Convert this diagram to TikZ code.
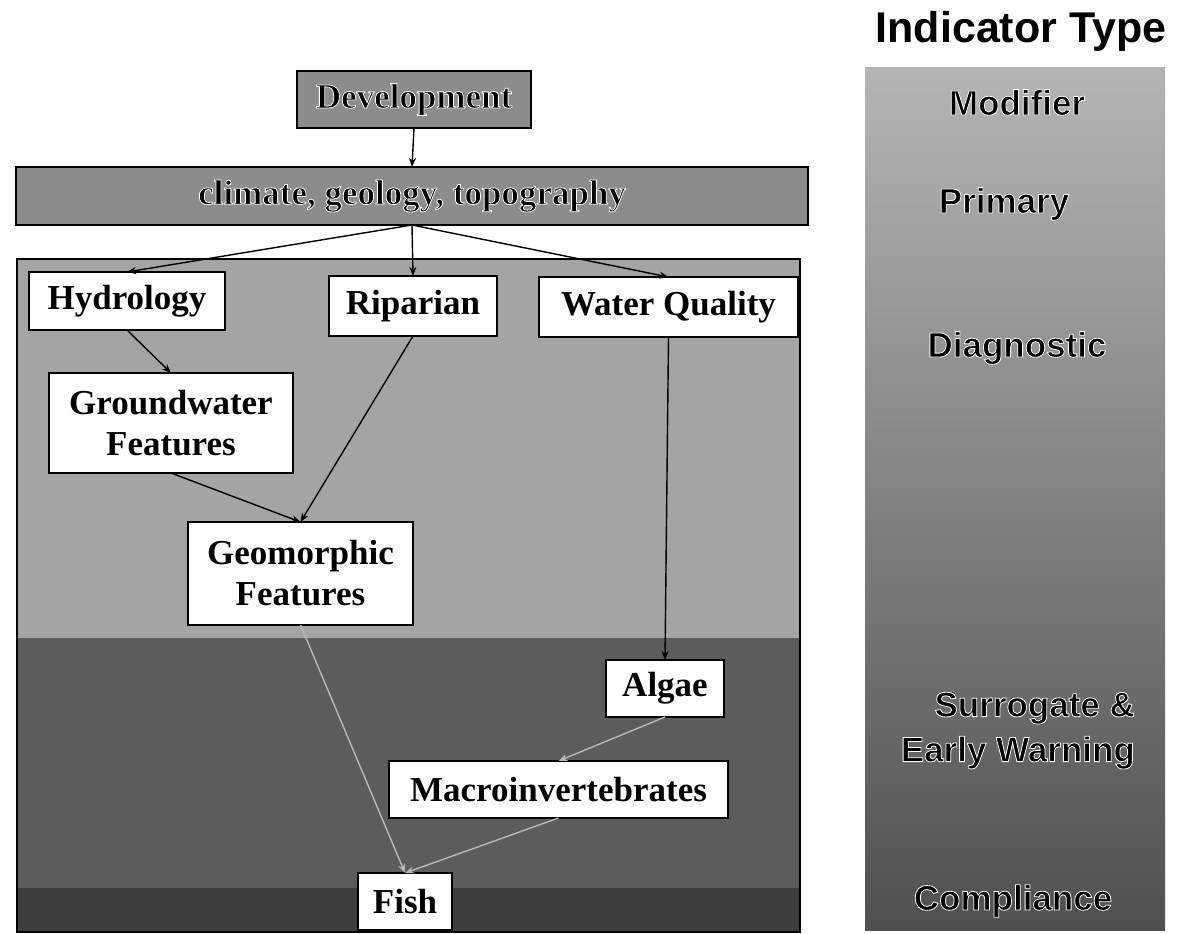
\documentclass[tikz,border=0pt]{standalone}
\usepackage{fontspec}
\setmainfont{Liberation Serif}
\newfontfamily\labelsans{Liberation Sans}
\usetikzlibrary{arrows.meta}

\definecolor{zoneDiag}{HTML}{A4A4A4}
\definecolor{zoneSurr}{HTML}{5C5C5C}
\definecolor{zoneComp}{HTML}{3E3E3E}
\definecolor{topFill}{HTML}{8C8C8C}
\definecolor{colTop}{HTML}{B4B4B4}
\definecolor{colMid}{HTML}{8E8E8E}
\definecolor{colBot}{HTML}{505050}
\definecolor{lowLine}{HTML}{B8B8B8}

% bold text with a thin white outline (fill + stroke render mode)
\newcommand\haloed[1]{\special{pdf:literal direct 2 Tr 1 G 0.8 w}#1\special{pdf:literal direct 0 Tr}}

\tikzset{
  serifbox/.style={draw=black, line width=1.5, fill=white, inner sep=0, outer sep=0,
    align=center, font=\fontsize{35}{41}\selectfont\bfseries},
  greybox/.style={draw=black, line width=1.5, fill=topFill, inner sep=0, outer sep=0,
    font=\fontsize{35}{41}\selectfont\bfseries},
  typelabel/.style={inner sep=0, font=\labelsans\fontsize{35}{45}\selectfont\bfseries},
  link/.style={line width=1.4, -{Stealth[length=9, width=7]}},
  lowlink/.style={link, draw=lowLine}
}

\begin{document}
\begin{tikzpicture}[x=1pt, y=-1pt]
\useasboundingbox (0,0) rectangle (1191,934);

% indicator zones behind the flow chart
\fill[zoneDiag] (17,259) rectangle (800,638);
\fill[zoneSurr] (17,638) rectangle (800,888);
\fill[zoneComp] (17,888) rectangle (800,932);
\draw[line width=2] (17,259) rectangle (800,932);

% indicator type column
\shade[top color=colTop, middle color=colMid, bottom color=colBot] (865,68) rectangle (1165,930);
\node[inner sep=0, anchor=base, font=\labelsans\fontsize{43}{48}\selectfont\bfseries]
  (title) at (1021,43) {Indicator Type};
\node[typelabel, anchor=base] (modifier) at (1017,115) {\haloed{Modifier}};
\node[typelabel, anchor=base] (primary) at (1004,213) {\haloed{Primary}};
\node[typelabel, anchor=base] (diagnostic) at (1017,357) {\haloed{Diagnostic}};
\node[typelabel, anchor=north east, align=right] (surrogate) at (1135,692)
  {\haloed{Surrogate \&}\\\haloed{Early Warning}};
\node[typelabel, anchor=base] (compliance) at (1013,910) {\haloed{Compliance}};

% flow chart
\node[greybox, minimum width=234, minimum height=57] (dev) at (414,99.5) {\haloed{Development}};
\node[greybox, minimum width=792, minimum height=58] (climate) at (412,196) {\haloed{climate, geology, topography}};

\node[serifbox, minimum width=196, minimum height=58] (hydro) at (127,301) {Hydrology};
\node[serifbox, minimum width=168, minimum height=60] (rip) at (413,306) {Riparian};
\node[serifbox, minimum width=259, minimum height=60] (wq) at (668.5,307) {Water Quality};
\node[serifbox, minimum width=244, minimum height=100] (gw) at (171,423) {Groundwater\\Features};
\node[serifbox, minimum width=225, minimum height=103] (geo) at (300.5,573.5) {Geomorphic\\Features};
\node[serifbox, minimum width=118, minimum height=57] (algae) at (665,688.5) {Algae};
\node[serifbox, minimum width=339, minimum height=57] (macro) at (558.5,789.5) {Macroinvertebrates};
\node[serifbox, minimum width=94, minimum height=57] (fish) at (405,901.5) {Fish};

\draw[link] (dev.south) -- (climate.north);
\draw[link] (climate.south) -- (hydro.north);
\draw[link] (climate.south) -- (rip.north);
\draw[link] (climate.south) -- (wq.north);
\draw[link] (hydro.south) -- (gw.north);
\draw[link] (gw.south) -- (geo.north);
\draw[link] (rip.south) -- (geo.north);
\draw[link] (wq.south) -- (algae.north);
\draw[lowlink] (geo.south) -- (fish.north);
\draw[lowlink] (algae.south) -- (macro.north);
\draw[lowlink] (macro.south) -- (fish.north);
\end{tikzpicture}
\end{document}
